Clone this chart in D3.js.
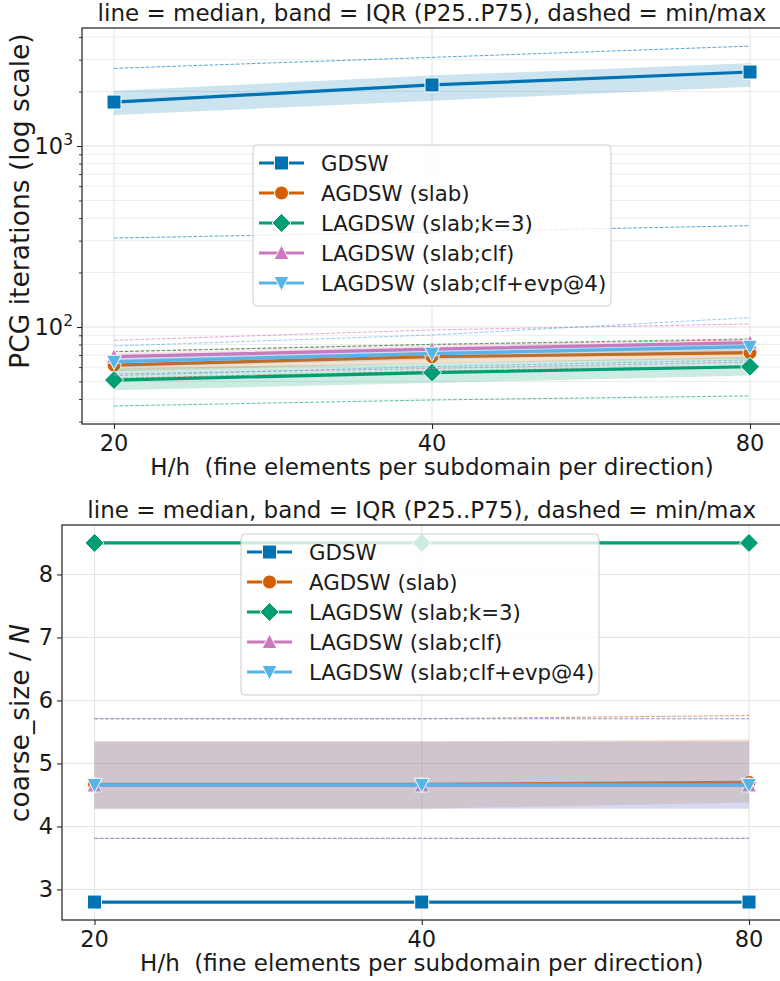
<!DOCTYPE html>
<html>
<head>
<meta charset="utf-8">
<script src="https://cdn.jsdelivr.net/npm/d3@7"></script>
<style>
  body { margin: 0; background: #fff; }
  text { font-family: "DejaVu Sans", sans-serif; fill: #1a1a1a; white-space: pre; }
</style>
</head>
<body>
<svg id="chart" width="780" height="981"></svg>
<script>
// ---- data -------------------------------------------------------------
const hValues = [20, 40, 80];
const methodNames = ["GDSW", "AGDSW (slab)", "LAGDSW (slab;k=3)", "LAGDSW (slab;clf)", "LAGDSW (slab;clf+evp@4)"];
const methodColors = ["#0173b2", "#d55e00", "#029e73", "#cc78bc", "#56b4e9"];
const methodMarkers = ["square", "circle", "diamond", "triangleUp", "triangleDown"];

// PCG iterations per method (rows) and H/h (columns)
const iterMedian = [[1750, 2175, 2565], [61.6, 68.5, 72.1], [50.9, 55.9, 60.3], [68.5, 75.4, 81.9], [64.3, 71.3, 77.8]];
const iterP25    = [[1483, 1780, 2125], [57, 63, 67], [44.7, 49.1, 53.9], [64, 70, 76], [60, 66, 72]];
const iterP75    = [[2020, 2450, 2864], [66, 73, 77], [59.2, 63.2, 68.4], [72, 79, 86], [68, 75, 82]];
const iterMin    = [[310, 335, 363], [52, 57, 61], [36.6, 39.5, 41.6], [55, 59, 64], [53.8, 60.5, 65.7]];
const iterMax    = [[2686, 3090, 3565], [73, 80, 85], [73.1, 80.2, 86], [84.4, 96.3, 104], [78.5, 90.3, 112.6]];

// coarse space size relative to N
const sizeMedian = [[2.8, 2.8, 2.8], [4.67, 4.67, 4.70], [8.5, 8.5, 8.5], [4.65, 4.65, 4.65], [4.66, 4.66, 4.66]];
const sizeP25    = [[2.8, 2.8, 2.8], [4.28, 4.28, 4.38], [8.5, 8.5, 8.5], [4.28, 4.28, 4.28], [4.28, 4.28, 4.28]];
const sizeP75    = [[2.8, 2.8, 2.8], [5.35, 5.35, 5.38], [8.5, 8.5, 8.5], [5.35, 5.35, 5.35], [5.35, 5.35, 5.35]];
const sizeMin    = [[2.8, 2.8, 2.8], [3.81, 3.81, 3.81], [8.5, 8.5, 8.5], [3.81, 3.81, 3.81], [3.81, 3.81, 3.81]];
const sizeMax    = [[2.8, 2.8, 2.8], [5.71, 5.71, 5.76], [8.5, 8.5, 8.5], [5.71, 5.71, 5.71], [5.71, 5.71, 5.71]];

const iterMajorTicks = [100, 1000];
const iterMinorTicks = [30, 40, 50, 60, 70, 80, 90, 200, 300, 400, 500, 600, 700, 800, 900, 2000, 3000, 4000];
const sizeTicks = [3, 4, 5, 6, 7, 8];

const titleText = "line = median, band = IQR (P25..P75), dashed = min/max";
const xLabelText = "H/h  (fine elements per subdomain per direction)";

// ---- helpers ------------------------------------------------------------
const svg = d3.select("#chart");
const FS_TICK = 22.5, FS_XLABEL = 23, FS_YLABEL = 26.5, FS_TITLE = 23, FS_LEGEND = 21.3;

function markerPath(kind) {
  switch (kind) {
    case "square": return "M-7,-7H7V7H-7Z";
    case "circle": return d3.symbol(d3.symbolCircle, Math.PI * 7 * 7)();
    case "diamond": return "M0,-9.5L9.5,0L0,9.5L-9.5,0Z";
    case "triangleUp": return "M0,-8L7.5,6.5L-7.5,6.5Z";
    case "triangleDown": return "M0,8L7.5,-6.5L-7.5,-6.5Z";
  }
}

function drawPanel(cfg) {
  const g = svg.append("g");
  const x = d3.scaleLog().base(2).domain([20, 80]).range([cfg.x20, cfg.x80]);
  const y = cfg.y;
  const left = cfg.left, right = cfg.x80 + (cfg.x20 - cfg.left);
  const [bottom, top] = y.range();

  // grid
  const grid = g.append("g").attr("stroke", "#e3e3e3").attr("stroke-width", 1);
  if (cfg.minorTicks) {
    grid.selectAll(".ymin").data(cfg.minorTicks).join("line")
      .attr("x1", left).attr("x2", right)
      .attr("y1", d => y(d)).attr("y2", d => y(d))
      .attr("stroke", "#ececec");
  }
  grid.selectAll(".ymaj").data(cfg.majorTicks).join("line")
    .attr("x1", left).attr("x2", right)
    .attr("y1", d => y(d)).attr("y2", d => y(d));
  grid.selectAll(".xg").data(hValues).join("line")
    .attr("x1", d => x(d)).attr("x2", d => x(d))
    .attr("y1", top).attr("y2", bottom);

  // series: IQR band, min/max dashed, median line with markers
  const idx = [0, 1, 2];
  methodNames.forEach((name, s) => {
    const col = methodColors[s];
    const sg = g.append("g");
    sg.append("path")
      .attr("d", d3.area().x(i => x(hValues[i])).y0(i => y(cfg.p25[s][i])).y1(i => y(cfg.p75[s][i]))(idx))
      .attr("fill", col).attr("fill-opacity", 0.2);
    [cfg.min, cfg.max].forEach(arr => {
      sg.append("path")
        .attr("d", d3.line().x(i => x(hValues[i])).y(i => y(arr[s][i]))(idx))
        .attr("fill", "none").attr("stroke", col).attr("stroke-width", 1)
        .attr("stroke-opacity", 0.65).attr("stroke-dasharray", "3.7,1.6");
    });
    sg.append("path")
      .attr("d", d3.line().x(i => x(hValues[i])).y(i => y(cfg.med[s][i]))(idx))
      .attr("fill", "none").attr("stroke", col).attr("stroke-width", 3.2);
    sg.selectAll(".m").data(idx).join("path")
      .attr("transform", i => `translate(${x(hValues[i])},${y(cfg.med[s][i])})`)
      .attr("d", markerPath(methodMarkers[s]))
      .attr("fill", col).attr("stroke", "#fff").attr("stroke-width", 1);
  });

  // frame
  g.append("rect").attr("x", left).attr("y", top)
    .attr("width", right - left).attr("height", bottom - top)
    .attr("fill", "none").attr("stroke", "#262626").attr("stroke-width", 1.25);

  // y ticks
  const yAxis = g.append("g").attr("transform", `translate(${left},0)`);
  yAxis.append("g").call(d3.axisLeft(y).tickValues(cfg.majorTicks).tickSize(5).tickFormat(""))
    .call(a => a.select(".domain").remove())
    .call(a => a.selectAll("line").attr("stroke", "#262626").attr("stroke-width", 1.1));
  if (cfg.minorTicks) {
    yAxis.append("g").call(d3.axisLeft(y).tickValues(cfg.minorTicks).tickSize(3).tickFormat(""))
      .call(a => a.select(".domain").remove())
      .call(a => a.selectAll("line").attr("stroke", "#262626").attr("stroke-width", 0.9));
  }
  cfg.majorTicks.forEach(v => {
    const t = g.append("text").attr("x", left - 9).attr("y", y(v) + 8)
      .attr("text-anchor", "end").attr("font-size", FS_TICK);
    if (cfg.log) {
      t.append("tspan").text("10");
      t.append("tspan").attr("font-size", 15.5).attr("dy", -9).text(String(Math.round(Math.log10(v))));
    } else {
      t.text(v);
    }
  });

  // x ticks
  g.append("g").attr("transform", `translate(0,${bottom})`)
    .call(d3.axisBottom(x).tickValues(hValues).tickSize(5).tickFormat(""))
    .call(a => a.select(".domain").remove())
    .call(a => a.selectAll("line").attr("stroke", "#262626").attr("stroke-width", 1.1));
  g.selectAll(".xt").data(hValues).join("text")
    .attr("x", d => x(d)).attr("y", bottom + 27)
    .attr("text-anchor", "middle").attr("font-size", FS_TICK).text(d => d);

  // labels
  g.append("text").attr("x", (left + right) / 2).attr("y", bottom + 51)
    .attr("text-anchor", "middle").attr("font-size", FS_XLABEL).text(xLabelText);
  g.append("text").attr("x", (left + right) / 2).attr("y", top - 7.5)
    .attr("text-anchor", "middle").attr("font-size", FS_TITLE).text(titleText);
  const yl = g.append("text")
    .attr("transform", `translate(28.5,${cfg.yLabelCenter}) rotate(-90)`)
    .attr("text-anchor", "middle").attr("font-size", FS_YLABEL);
  cfg.yLabel(yl);

  // legend
  const lg = g.append("g").attr("transform", `translate(${cfg.legX},${cfg.legY})`);
  lg.append("rect").attr("width", 358).attr("height", 161).attr("rx", 4)
    .attr("fill", "#fff").attr("fill-opacity", 0.8)
    .attr("stroke", "#cccccc").attr("stroke-width", 1);
  methodNames.forEach((name, s) => {
    const ry = 18 + 30 * s;
    lg.append("line").attr("x1", 6).attr("x2", 51).attr("y1", ry).attr("y2", ry)
      .attr("stroke", methodColors[s]).attr("stroke-width", 3.2);
    lg.append("path").attr("transform", `translate(28.5,${ry})`)
      .attr("d", markerPath(methodMarkers[s]))
      .attr("fill", methodColors[s]).attr("stroke", "#fff").attr("stroke-width", 1);
    lg.append("text").attr("x", 68).attr("y", ry + 7.5).attr("font-size", FS_LEGEND).text(name);
  });
}

// ---- top panel: PCG iterations (log scale) ----
drawPanel({
  left: 82, x20: 114, x80: 750,
  y: d3.scaleLog().domain([29.1, 4490]).range([424, 28]),
  log: true,
  majorTicks: iterMajorTicks, minorTicks: iterMinorTicks,
  med: iterMedian, p25: iterP25, p75: iterP75, min: iterMin, max: iterMax,
  legX: 253, legY: 145,
  yLabelCenter: 201,
  yLabel: t => t.text("PCG iterations (log scale)")
});

// ---- bottom panel: coarse space size ----
drawPanel({
  left: 62, x20: 94.5, x80: 749,
  y: d3.scaleLinear().domain([2.515, 8.785]).range([920, 525]),
  log: false,
  majorTicks: sizeTicks, minorTicks: null,
  med: sizeMedian, p25: sizeP25, p75: sizeP75, min: sizeMin, max: sizeMax,
  legX: 241, legY: 534,
  yLabelCenter: 723,
  yLabel: t => {
    t.append("tspan").text("coarse_size / ");
    t.append("tspan").attr("font-style", "italic").text("N");
  }
});
</script>
</body>
</html>
